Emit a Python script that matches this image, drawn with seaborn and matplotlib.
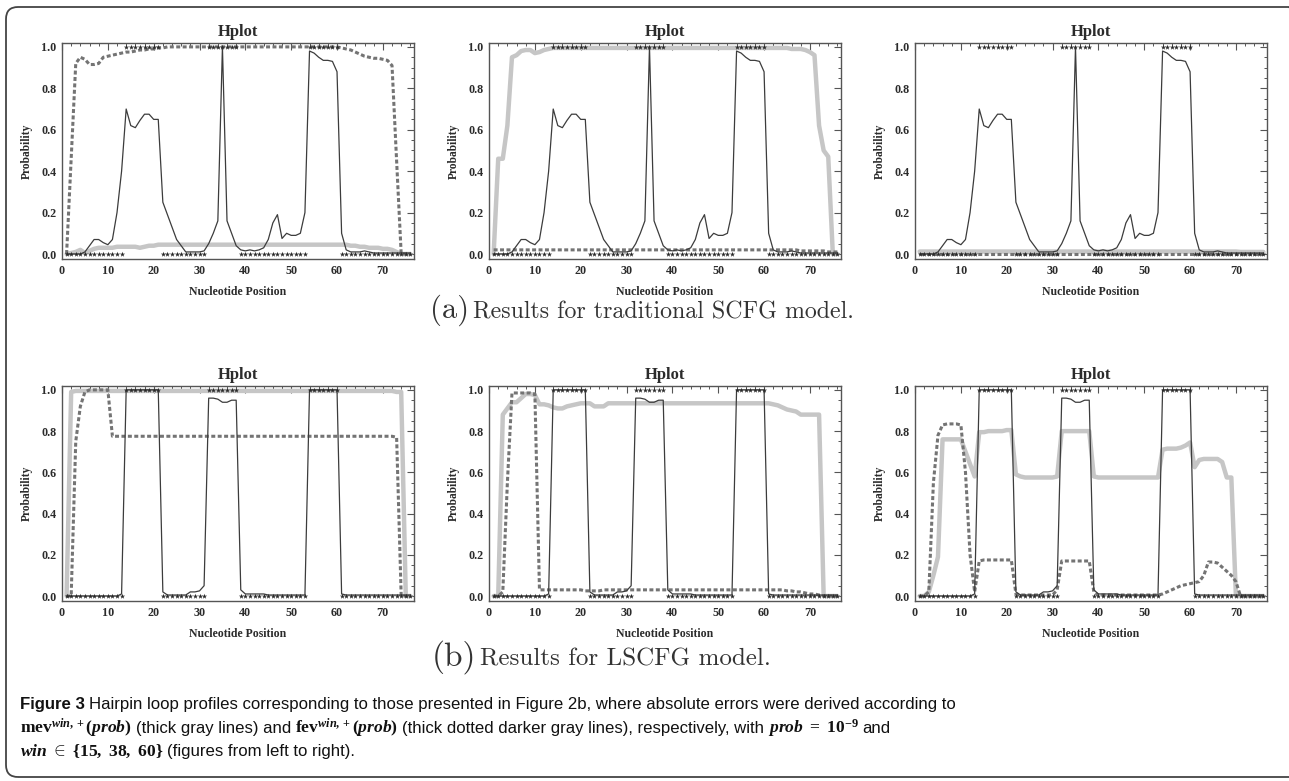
import matplotlib

matplotlib.use("Agg")
import matplotlib.pyplot as plt
import seaborn as sns
from matplotlib.patches import FancyBboxPatch
from matplotlib.ticker import MultipleLocator

# ── Data ──────────────────────────────────────────────────────────────────────
POSITIONS = list(range(1, 77))

# reference structure: paired bases drawn at 1.0, unpaired at 0.0
PAIRED_POS = list(range(14, 22)) + list(range(32, 39)) + list(range(54, 61))
UNPAIRED_POS = (
    list(range(1, 14)) + list(range(22, 32)) + list(range(39, 54)) + list(range(61, 77))
)
PAIRED_Y = [1.0] * len(PAIRED_POS)
UNPAIRED_Y = [0.0] * len(UNPAIRED_POS)

# thin black profile, traditional SCFG (same in the 3 top panels)
SCFG_PROFILE = [
    0.0, 0.0, 0.0, 0.0, 0.01, 0.04, 0.07, 0.07, 0.055, 0.045,
    0.07, 0.2, 0.4, 0.70, 0.62, 0.61, 0.645, 0.675, 0.675, 0.65,
    0.65, 0.25, 0.19, 0.13, 0.07, 0.04, 0.01, 0.01, 0.01, 0.01,
    0.015, 0.05, 0.1, 0.16, 1.0, 0.16, 0.1, 0.04, 0.02, 0.015,
    0.02, 0.015, 0.02, 0.03, 0.07, 0.15, 0.19, 0.075, 0.1, 0.09,
    0.09, 0.1, 0.2, 0.98, 0.97, 0.95, 0.935, 0.935, 0.93, 0.88,
    0.1, 0.02, 0.01, 0.01, 0.01, 0.015, 0.01, 0.005, 0.005, 0.005,
    0.005, 0.005, 0.005, 0.005, 0.005, 0.005,
]

# thin black profile, LSCFG (same in the 3 bottom panels)
LSCFG_PROFILE = [
    0.0, 0.0, 0.0, 0.0, 0.0, 0.0, 0.0, 0.0, 0.0, 0.0,
    0.0, 0.0, 0.01, 1.0, 1.0, 1.0, 1.0, 1.0, 1.0, 1.0,
    1.0, 0.02, 0.005, 0.005, 0.005, 0.005, 0.005, 0.02, 0.02, 0.025,
    0.05, 0.96, 0.96, 0.955, 0.94, 0.94, 0.95, 0.95, 0.03, 0.01,
    0.01, 0.01, 0.01, 0.01, 0.005, 0.005, 0.005, 0.005, 0.005, 0.005,
    0.005, 0.005, 0.005, 1.0, 1.0, 1.0, 1.0, 1.0, 1.0, 1.0,
    0.01, 0.005, 0.005, 0.005, 0.005, 0.005, 0.005, 0.005, 0.005, 0.005,
    0.005, 0.005, 0.005, 0.005, 0.005, 0.005,
]

# mev (thick gray) and fev (thick dotted) errors, SCFG, win = 15 / 38 / 60
MEV_SCFG_15 = [
    0.0, 0.005, 0.01, 0.02, 0.005, 0.015, 0.025, 0.03, 0.03, 0.03,
    0.03, 0.035, 0.035, 0.035, 0.035, 0.035, 0.03, 0.035, 0.04, 0.04,
    0.045, 0.045, 0.045, 0.045, 0.045, 0.045, 0.045, 0.045, 0.045, 0.045,
    0.045, 0.045, 0.045, 0.045, 0.045, 0.045, 0.045, 0.045, 0.045, 0.045,
    0.045, 0.045, 0.045, 0.045, 0.045, 0.045, 0.045, 0.045, 0.045, 0.045,
    0.045, 0.045, 0.045, 0.045, 0.045, 0.045, 0.045, 0.045, 0.045, 0.045,
    0.045, 0.045, 0.04, 0.04, 0.035, 0.035, 0.03, 0.03, 0.03, 0.025,
    0.025, 0.02, 0.01, 0.0, 0.0, 0.0,
]
FEV_SCFG_15 = [
    0.0, 0.46, 0.92, 0.95, 0.94, 0.915, 0.915, 0.92, 0.95, 0.955,
    0.96, 0.965, 0.97, 0.975, 0.975, 0.98, 0.985, 0.985, 0.99, 0.99,
    0.995, 0.995, 1.0, 1.0, 1.0, 1.0, 1.0, 1.0, 1.0, 1.0,
    1.0, 1.0, 1.0, 1.0, 1.0, 1.0, 1.0, 1.0, 1.0, 1.0,
    1.0, 1.0, 1.0, 1.0, 1.0, 1.0, 1.0, 1.0, 1.0, 1.0,
    1.0, 1.0, 1.0, 1.0, 1.0, 1.0, 1.0, 1.0, 1.0, 1.0,
    0.995, 0.99, 0.985, 0.975, 0.965, 0.955, 0.95, 0.945, 0.945, 0.94,
    0.935, 0.91, 0.45, 0.0, 0.0, 0.0,
]
MEV_SCFG_38 = [
    0.0, 0.46, 0.46, 0.62, 0.95, 0.96, 0.98, 0.985, 0.985, 0.97,
    0.975, 0.985, 0.99, 0.995, 0.995, 0.995, 0.995, 0.995, 0.995, 0.995,
    0.995, 0.995, 0.995, 0.995, 0.995, 0.995, 0.995, 0.995, 0.995, 0.995,
    0.995, 0.995, 0.995, 0.995, 0.995, 0.995, 0.995, 0.995, 0.995, 0.995,
    0.995, 0.995, 0.995, 0.995, 0.995, 0.995, 0.995, 0.995, 0.995, 0.995,
    0.995, 0.995, 0.995, 0.995, 0.995, 0.995, 0.995, 0.995, 0.995, 0.995,
    0.995, 0.995, 0.995, 0.995, 0.995, 0.99, 0.99, 0.99, 0.985, 0.975,
    0.96, 0.62, 0.5, 0.47, 0.0, 0.0,
]
FEV_SCFG_38 = [
    0.02, 0.02, 0.02, 0.02, 0.02, 0.02, 0.02, 0.02, 0.02, 0.02,
    0.02, 0.02, 0.02, 0.02, 0.02, 0.02, 0.02, 0.02, 0.02, 0.02,
    0.02, 0.02, 0.02, 0.02, 0.02, 0.02, 0.02, 0.02, 0.02, 0.02,
    0.02, 0.02, 0.02, 0.02, 0.02, 0.02, 0.02, 0.02, 0.02, 0.02,
    0.02, 0.02, 0.02, 0.02, 0.02, 0.02, 0.02, 0.02, 0.02, 0.02,
    0.02, 0.02, 0.02, 0.02, 0.02, 0.02, 0.02, 0.02, 0.02, 0.02,
    0.02, 0.02, 0.02, 0.02, 0.02, 0.02, 0.02, 0.015, 0.015, 0.015,
    0.015, 0.015, 0.015, 0.01, 0.01, 0.01,
]
MEV_SCFG_60 = [
    0.012, 0.012, 0.012, 0.012, 0.012, 0.012, 0.012, 0.012, 0.012, 0.012,
    0.012, 0.012, 0.012, 0.012, 0.012, 0.012, 0.012, 0.012, 0.012, 0.012,
    0.012, 0.012, 0.012, 0.012, 0.012, 0.012, 0.012, 0.012, 0.012, 0.012,
    0.012, 0.012, 0.012, 0.012, 0.012, 0.012, 0.012, 0.012, 0.012, 0.012,
    0.012, 0.012, 0.012, 0.012, 0.012, 0.012, 0.012, 0.012, 0.012, 0.012,
    0.012, 0.012, 0.012, 0.012, 0.012, 0.012, 0.012, 0.012, 0.012, 0.012,
    0.012, 0.012, 0.012, 0.012, 0.012, 0.012, 0.012, 0.012, 0.012, 0.012,
    0.01, 0.01, 0.01, 0.01, 0.01, 0.01,
]
FEV_SCFG_60 = [
    0.0, 0.0, 0.0, 0.0, 0.0, 0.0, 0.0, 0.0, 0.0, 0.0,
    0.0, 0.0, 0.0, 0.0, 0.0, 0.0, 0.0, 0.0, 0.0, 0.0,
    0.0, 0.0, 0.0, 0.0, 0.0, 0.0, 0.0, 0.0, 0.0, 0.0,
    0.0, 0.0, 0.0, 0.0, 0.0, 0.0, 0.0, 0.0, 0.0, 0.0,
    0.0, 0.0, 0.0, 0.0, 0.0, 0.0, 0.0, 0.0, 0.0, 0.0,
    0.0, 0.0, 0.0, 0.0, 0.0, 0.0, 0.0, 0.0, 0.0, 0.0,
    0.0, 0.0, 0.0, 0.0, 0.0, 0.0, 0.0, 0.0, 0.0, 0.0,
    0.0, 0.0, 0.0, 0.0, 0.0, 0.0,
]

# mev / fev errors, LSCFG, win = 15 / 38 / 60
MEV_LSCFG_15 = [
    0.0, 0.99, 0.995, 0.995, 0.995, 0.995, 0.995, 0.995, 0.995, 0.995,
    0.995, 0.995, 0.995, 0.995, 0.995, 0.995, 0.995, 0.995, 0.995, 0.995,
    0.995, 0.995, 0.995, 0.995, 0.995, 0.995, 0.995, 0.995, 0.995, 0.995,
    0.995, 0.995, 0.995, 0.995, 0.995, 0.995, 0.995, 0.995, 0.995, 0.995,
    0.995, 0.995, 0.995, 0.995, 0.995, 0.995, 0.995, 0.995, 0.995, 0.995,
    0.995, 0.995, 0.995, 0.995, 0.995, 0.995, 0.995, 0.995, 0.995, 0.995,
    0.995, 0.995, 0.995, 0.995, 0.995, 0.995, 0.995, 0.995, 0.995, 0.995,
    0.995, 0.995, 0.99, 0.99, 0.0, 0.0,
]
FEV_LSCFG_15 = [
    0.0, 0.0, 0.75, 0.92, 0.99, 1.0, 1.0, 1.0, 1.0, 1.0,
    0.775, 0.775, 0.775, 0.775, 0.775, 0.775, 0.775, 0.775, 0.775, 0.775,
    0.775, 0.775, 0.775, 0.775, 0.775, 0.775, 0.775, 0.775, 0.775, 0.775,
    0.775, 0.775, 0.775, 0.775, 0.775, 0.775, 0.775, 0.775, 0.775, 0.775,
    0.775, 0.775, 0.775, 0.775, 0.775, 0.775, 0.775, 0.775, 0.775, 0.775,
    0.775, 0.775, 0.775, 0.775, 0.775, 0.775, 0.775, 0.775, 0.775, 0.775,
    0.775, 0.775, 0.775, 0.775, 0.775, 0.775, 0.775, 0.775, 0.775, 0.775,
    0.775, 0.775, 0.77, 0.0, 0.0, 0.0,
]
MEV_LSCFG_38 = [
    0.0, 0.0, 0.88, 0.91, 0.94, 0.94, 0.96, 0.98, 0.98, 0.975,
    0.93, 0.93, 0.925, 0.915, 0.91, 0.91, 0.92, 0.925, 0.93, 0.935,
    0.935, 0.935, 0.92, 0.92, 0.92, 0.935, 0.935, 0.935, 0.935, 0.935,
    0.935, 0.935, 0.935, 0.935, 0.935, 0.935, 0.935, 0.935, 0.935, 0.935,
    0.935, 0.935, 0.935, 0.935, 0.935, 0.935, 0.935, 0.935, 0.935, 0.935,
    0.935, 0.935, 0.935, 0.935, 0.935, 0.935, 0.935, 0.935, 0.935, 0.935,
    0.935, 0.93, 0.925, 0.915, 0.905, 0.9, 0.895, 0.88, 0.88, 0.88,
    0.88, 0.88, 0.0, 0.0, 0.0, 0.0,
]
FEV_LSCFG_38 = [
    0.0, 0.0, 0.02, 0.55, 0.985, 0.985, 0.985, 0.985, 0.985, 0.98,
    0.03, 0.03, 0.03, 0.03, 0.03, 0.03, 0.03, 0.03, 0.03, 0.03,
    0.025, 0.025, 0.025, 0.025, 0.03, 0.03, 0.03, 0.03, 0.03, 0.03,
    0.03, 0.03, 0.03, 0.03, 0.03, 0.03, 0.03, 0.03, 0.03, 0.03,
    0.03, 0.03, 0.03, 0.03, 0.03, 0.03, 0.03, 0.03, 0.03, 0.03,
    0.03, 0.03, 0.03, 0.03, 0.03, 0.03, 0.03, 0.03, 0.03, 0.03,
    0.03, 0.03, 0.03, 0.03, 0.025, 0.025, 0.02, 0.02, 0.015, 0.01,
    0.01, 0.005, 0.0, 0.0, 0.0, 0.0,
]
MEV_LSCFG_60 = [
    0.0, 0.0, 0.02, 0.1, 0.19, 0.76, 0.76, 0.76, 0.76, 0.76,
    0.7, 0.64, 0.58, 0.795, 0.795, 0.8, 0.8, 0.8, 0.8, 0.805,
    0.805, 0.59, 0.58, 0.575, 0.575, 0.575, 0.575, 0.575, 0.575, 0.575,
    0.58, 0.8, 0.8, 0.8, 0.8, 0.8, 0.8, 0.8, 0.58, 0.575,
    0.575, 0.575, 0.575, 0.575, 0.575, 0.575, 0.575, 0.575, 0.575, 0.575,
    0.575, 0.575, 0.575, 0.71, 0.715, 0.715, 0.715, 0.72, 0.73, 0.745,
    0.625, 0.66, 0.665, 0.665, 0.665, 0.665, 0.65, 0.575, 0.575, 0.0,
    0.0, 0.0, 0.0, 0.0, 0.0, 0.0,
]
FEV_LSCFG_60 = [
    0.0, 0.0, 0.02, 0.55, 0.78, 0.83, 0.835, 0.835, 0.835, 0.83,
    0.6, 0.2, 0.02, 0.17, 0.175, 0.175, 0.175, 0.175, 0.175, 0.175,
    0.175, 0.01, 0.005, 0.005, 0.005, 0.005, 0.005, 0.005, 0.005, 0.005,
    0.03, 0.17, 0.17, 0.17, 0.17, 0.17, 0.17, 0.17, 0.02, 0.005,
    0.005, 0.005, 0.005, 0.005, 0.005, 0.005, 0.005, 0.005, 0.005, 0.005,
    0.005, 0.005, 0.005, 0.01, 0.02, 0.03, 0.04, 0.05, 0.055, 0.06,
    0.065, 0.07, 0.1, 0.165, 0.165, 0.16, 0.14, 0.12, 0.1, 0.07,
    0.0, 0.0, 0.0, 0.0, 0.0, 0.0,
]

# ── Style ─────────────────────────────────────────────────────────────────────
sns.set_style("white")
plt.rcParams["font.family"] = ["Liberation Serif", "DejaVu Serif"]
plt.rcParams["font.weight"] = "bold"
plt.rcParams["mathtext.fontset"] = "custom"
plt.rcParams["mathtext.rm"] = "Liberation Serif:bold"
plt.rcParams["mathtext.it"] = "Liberation Serif:italic:bold"
plt.rcParams["mathtext.bf"] = "Liberation Serif:bold"

INK = "#2b2b2b"
LINE_COLOR = "#3c3c3c"
MEV_COLOR = "#c6c6c6"
FEV_COLOR = "#747474"

LEFTS = [0.0481, 0.3794, 0.7099]
WIDTH = 0.2731
ROWS = [(0.6684, 0.2766), (0.2305, 0.2753)]


def draw_panel(ax, profile, mev, fev):
    sns.lineplot(x=POSITIONS, y=mev, ax=ax, color=MEV_COLOR, lw=3.2)
    sns.lineplot(
        x=POSITIONS, y=fev, ax=ax, color=FEV_COLOR, lw=2.2, linestyle=(0, (1.3, 0.8))
    )
    sns.lineplot(x=POSITIONS, y=profile, ax=ax, color=LINE_COLOR, lw=0.9)
    for xs, ys in [(PAIRED_POS, PAIRED_Y), (UNPAIRED_POS, UNPAIRED_Y)]:
        sns.scatterplot(
            x=xs, y=ys, ax=ax, marker="*", s=16, color=INK, linewidth=0, zorder=5
        )

    ax.set_xlim(0, 76.8)
    ax.set_ylim(-0.024, 1.019)
    ax.xaxis.set_major_locator(MultipleLocator(10))
    ax.xaxis.set_minor_locator(MultipleLocator(2))
    ax.yaxis.set_major_locator(MultipleLocator(0.2))
    ax.yaxis.set_minor_locator(MultipleLocator(0.05))
    ax.tick_params(
        which="both", direction="in", top=True, right=True, color="#555555",
        labelcolor=INK, labelsize=8.7,
    )
    ax.tick_params(which="major", length=5, width=0.8, pad=4)
    ax.tick_params(which="minor", length=2.5, width=0.7)
    for sp in ax.spines.values():
        sp.set_color("#555555")
        sp.set_linewidth(1.0)
    ax.set_title("Hplot", fontsize=12, fontweight="bold", color=INK, pad=5)
    ax.set_xlabel("Nucleotide Position", fontsize=8.5, fontweight="bold",
                  color=INK, labelpad=7)
    ax.set_ylabel("Probability", fontsize=8.3, fontweight="bold",
                  color=INK, labelpad=6)


fig = plt.figure(figsize=(12.89, 7.81), dpi=100)
renderer = fig.canvas.get_renderer()

panels = [
    [(SCFG_PROFILE, MEV_SCFG_15, FEV_SCFG_15),
     (SCFG_PROFILE, MEV_SCFG_38, FEV_SCFG_38),
     (SCFG_PROFILE, MEV_SCFG_60, FEV_SCFG_60)],
    [(LSCFG_PROFILE, MEV_LSCFG_15, FEV_LSCFG_15),
     (LSCFG_PROFILE, MEV_LSCFG_38, FEV_LSCFG_38),
     (LSCFG_PROFILE, MEV_LSCFG_60, FEV_LSCFG_60)],
]
for (bottom, height), row in zip(ROWS, panels):
    for left, (profile, mev, fev) in zip(LEFTS, row):
        ax = fig.add_axes([left, bottom, WIDTH, height])
        draw_panel(ax, profile, mev, fev)


def right_edge(text):
    return text.get_window_extent(renderer).x1 / fig.bbox.width


# sub-captions "(a) ..." and "(b) ..."
for x0, y, tag, tag_size, label, label_size in [
    (0.3336, 0.603, "(a)", 22, "Results for traditional SCFG model.", 17.2),
    (0.3352, 0.159, "(b)", 24, "Results for LSCFG model.", 18),
]:
    t = fig.text(x0, y, tag, family="cmr10", weight="normal", fontsize=tag_size,
                 color="#333333", va="center")
    fig.text(right_edge(t) + 0.003, y - 0.003, label, family="cmr10",
             weight="normal", fontsize=label_size, color="#333333", va="center")

# figure caption, built from sans and math pieces
CAP_FONT = ["Liberation Sans", "DejaVu Sans"]
CAP_SIZE = 12.1
MATH_SIZE = 12.6
CAP_X = 0.0155
GAP = 0.003
caption = [
    (0.0922, [("Figure 3", "bold"),
              ("Hairpin loop profiles corresponding to those presented in "
               "Figure 2b, where absolute errors were derived according to", "sans")]),
    (0.0615, [(r"$\mathrm{mev}^{win,+}(prob)$", "math"),
              ("(thick gray lines) and", "sans"),
              (r"$\mathrm{fev}^{win,+}(prob)$", "math"),
              ("(thick dotted darker gray lines), respectively, with", "sans"),
              (r"$prob\ =\ 10^{-9}$", "math"),
              ("and", "sans")]),
    (0.032, [(r"$win\ \in\ \{15,\ 38,\ 60\}$", "math"),
             ("(figures from left to right).", "sans")]),
]
for y, pieces in caption:
    x = CAP_X
    for txt, kind in pieces:
        t = fig.text(
            x, y, txt, family=CAP_FONT,
            weight="bold" if kind == "bold" else "normal",
            fontsize=MATH_SIZE if kind == "math" else CAP_SIZE,
            color="#111111", va="baseline",
        )
        x = right_edge(t) + GAP

# rounded frame around the whole figure
frame = FancyBboxPatch(
    (0.06, 0.04), 12.95, 7.70,
    boxstyle="round,pad=0,rounding_size=0.12",
    transform=fig.dpi_scale_trans, fill=False, ec="#444444", lw=1.3,
)
fig.add_artist(frame)

fig.savefig("out.png", dpi=100)
